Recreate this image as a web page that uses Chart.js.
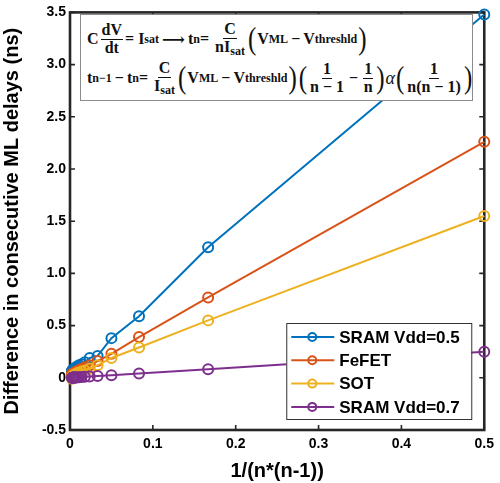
<!DOCTYPE html>
<html>
<head>
<meta charset="utf-8">
<script src="https://cdn.jsdelivr.net/npm/chart.js@4/dist/chart.umd.min.js"></script>
<style>
  html, body { margin: 0; padding: 0; background: #fff; }
  #wrap { position: relative; width: 500px; height: 483px; }
  #eq {
    position: absolute; left: 80px; top: 14px; width: 391px; height: 85px;
    background: #fff; border: 1px solid #8c8c8c;
    font-family: "Liberation Serif", "DejaVu Serif", serif; font-weight: bold;
    font-size: 16px; color: #111;
  }
  .row { position: absolute; left: 6px; display: flex; align-items: center; white-space: nowrap; }
  .frac { display: inline-flex; flex-direction: column; align-items: center; margin: 0 2px; line-height: 1.05; }
  .frac > span:first-child { border-bottom: 1px solid #111; padding: 0 1px; }
  .par { font-weight: normal; font-size: 25px; transform: scaleY(1.25); display: inline-block; margin: 0 1px; }
  sub { font-size: 12px; vertical-align: -3px; }
  .op { margin: 0 3px; }
</style>
</head>
<body>
<div id="wrap">
  <canvas id="grafico" width="500" height="483"></canvas>
  <div id="eq">
    <div class="row" style="top:6px;height:36px;">
      C<span class="frac"><span>dV</span><span>dt</span></span>= I<sub>sat</sub>
      <span class="op">&#10230;</span> t<sub>n</sub>=&nbsp;
      <span class="frac"><span>C</span><span>nI<sub>sat</sub></span></span>
      <span class="par">(</span>V<sub>ML</sub><span class="op">&minus;</span>V<sub>threshld</sub><span class="par">)</span>
    </div>
    <div class="row" style="top:45px;height:36px;">
      t<sub>n&minus;1</sub><span class="op">&minus;</span>t<sub>n</sub>=&nbsp;
      <span class="frac"><span>C</span><span>I<sub>sat</sub></span></span>
      <span class="par">(</span>V<sub>ML</sub><span class="op">&minus;</span>V<sub>threshld</sub><span class="par">)</span><span class="par">(</span>
      <span class="frac"><span>1</span><span>n &minus; 1</span></span><span class="op">&minus;</span><span class="frac"><span>1</span><span>n</span></span><span class="par">)</span><i style="font-weight:normal;font-size:18px;">&alpha;</i><span class="par">(</span><span class="frac"><span>1</span><span>n(n &minus; 1)</span></span><span class="par">)</span>
    </div>
  </div>
</div>
<script>
// eje x: 1/(n*(n-1)) para n = 2..21
const xValores = [0.5, 0.1667, 0.0833, 0.05, 0.0333, 0.0238, 0.0179, 0.0139, 0.0111, 0.0091,
                  0.0076, 0.0064, 0.0055, 0.0048, 0.0042, 0.0037, 0.0033, 0.0029, 0.0026, 0.0024];

const sramVdd05 = [3.48, 1.25, 0.59, 0.38, 0.21, 0.19, 0.15, 0.13, 0.12, 0.11,
                   0.10, 0.095, 0.09, 0.085, 0.08, 0.077, 0.074, 0.07, 0.068, 0.065];
const fefet     = [2.26, 0.77, 0.39, 0.23, 0.16, 0.12, 0.10, 0.085, 0.075, 0.065,
                   0.06, 0.055, 0.05, 0.047, 0.044, 0.042, 0.04, 0.038, 0.036, 0.035];
const sot       = [1.55, 0.55, 0.29, 0.19, 0.12, 0.09, 0.07, 0.06, 0.05, 0.045,
                   0.04, 0.035, 0.03, 0.027, 0.024, 0.02, 0.015, 0.01, 0.005, -0.01];
const sramVdd07 = [0.25, 0.083, 0.041, 0.025, 0.017, 0.012, 0.009, 0.007, 0.0055, 0.0045,
                   0.0038, 0.0032, 0.0027, 0.0024, 0.0021, 0.0018, 0.0016, 0.0015, 0.0013, 0.0012];

const etiquetas = ["SRAM Vdd=0.5", "FeFET", "SOT", "SRAM Vdd=0.7"];
const colores = ["#0072BD", "#D95319", "#EDB120", "#7E2F8E"];

const xTicks = [0, 0.1, 0.2, 0.3, 0.4, 0.5];
const yTicks = [-0.5, 0, 0.5, 1, 1.5, 2, 2.5, 3, 3.5];

const fuente = '"Liberation Sans", Arial, sans-serif';
const ejeColor = "#262626";

function puntos(serie) {
    return xValores.map((x, i) => ({ x: x, y: serie[i] }));
}

// caja de ejes con ticks hacia adentro (estilo MATLAB)
const cajaEjes = {
    id: "cajaEjes",
    beforeDatasetsDraw(chart) {
        const { ctx, chartArea: a, scales } = chart;
        ctx.save();
        ctx.strokeStyle = ejeColor;
        ctx.lineWidth = 1.6;
        ctx.beginPath();
        xTicks.forEach(v => {
            const px = scales.x.getPixelForValue(v);
            ctx.moveTo(px, a.bottom); ctx.lineTo(px, a.bottom - 5);
            ctx.moveTo(px, a.top); ctx.lineTo(px, a.top + 5);
        });
        yTicks.forEach(v => {
            const py = scales.y.getPixelForValue(v);
            ctx.moveTo(a.left, py); ctx.lineTo(a.left + 5, py);
            ctx.moveTo(a.right, py); ctx.lineTo(a.right - 5, py);
        });
        ctx.stroke();
        ctx.lineWidth = 2.6;
        ctx.strokeRect(a.left, a.top, a.right - a.left, a.bottom - a.top);
        ctx.restore();
    },
    afterDatasetsDraw(chart) {
        // leyenda dentro del área, esquina inferior derecha
        const { ctx, chartArea: a } = chart;
        const w = 185, h = 96;
        const x0 = a.right - 13 - w, y0 = a.bottom - 11 - h;
        ctx.save();
        ctx.fillStyle = "#fff";
        ctx.fillRect(x0, y0, w, h);
        ctx.strokeStyle = "#333";
        ctx.lineWidth = 1;
        ctx.strokeRect(x0 + 0.5, y0 + 0.5, w, h);
        ctx.font = "bold 17px " + fuente;
        ctx.textBaseline = "middle";
        chart.data.datasets.forEach((ds, i) => {
            const cy = y0 + 14 + i * 23.3;
            ctx.strokeStyle = ds.borderColor;
            ctx.lineWidth = 2;
            ctx.beginPath();
            ctx.moveTo(x0 + 5, cy); ctx.lineTo(x0 + 48, cy);
            ctx.stroke();
            ctx.beginPath();
            ctx.arc(x0 + 26, cy, 4, 0, Math.PI * 2);
            ctx.stroke();
            ctx.fillStyle = "#000";
            ctx.fillText(ds.label, x0 + 53, cy + 1);
        });
        ctx.restore();
    }
};

const ctx = document.getElementById("grafico").getContext("2d");
new Chart(ctx, {
    type: "scatter",
    data: {
        datasets: [sramVdd05, fefet, sot, sramVdd07].map((serie, i) => ({
            label: etiquetas[i],
            data: puntos(serie),
            showLine: true,
            borderColor: colores[i],
            backgroundColor: "rgba(0,0,0,0)",
            borderWidth: 2,
            pointRadius: 5,
            pointBorderWidth: 2,
            pointBorderColor: colores[i],
            pointBackgroundColor: "rgba(0,0,0,0)",
            clip: false,
            order: 3 - i
        }))
    },
    options: {
        responsive: false,
        animation: false,
        layout: { padding: { top: 10, right: 8, left: 0, bottom: 0 } },
        plugins: { legend: { display: false }, tooltip: { enabled: false } },
        scales: {
            x: {
                type: "linear", min: 0, max: 0.5,
                afterBuildTicks: s => { s.ticks = xTicks.map(v => ({ value: v })); },
                afterFit: s => { s.height = 53; },
                grid: { display: false, drawTicks: false },
                border: { display: false },
                ticks: { color: "#000", padding: 6, font: { family: fuente, size: 14, weight: "bold" } },
                title: { display: true, text: "1/(n*(n-1))", color: "#000", padding: { top: 2, bottom: 0 },
                         font: { family: fuente, size: 20, weight: "bold" } }
            },
            y: {
                type: "linear", min: -0.5, max: 3.5,
                afterBuildTicks: s => { s.ticks = yTicks.map(v => ({ value: v })); },
                afterFit: s => { s.width = 70; },
                grid: { display: false, drawTicks: false },
                border: { display: false },
                ticks: { color: "#000", padding: 4, font: { family: fuente, size: 14, weight: "bold" } },
                title: { display: true, text: "Difference in consecutive ML delays (ns)", color: "#000",
                         padding: { top: 0, bottom: 4 }, font: { family: fuente, size: 20, weight: "bold" } }
            }
        }
    },
    plugins: [cajaEjes]
});
</script>
</body>
</html>
